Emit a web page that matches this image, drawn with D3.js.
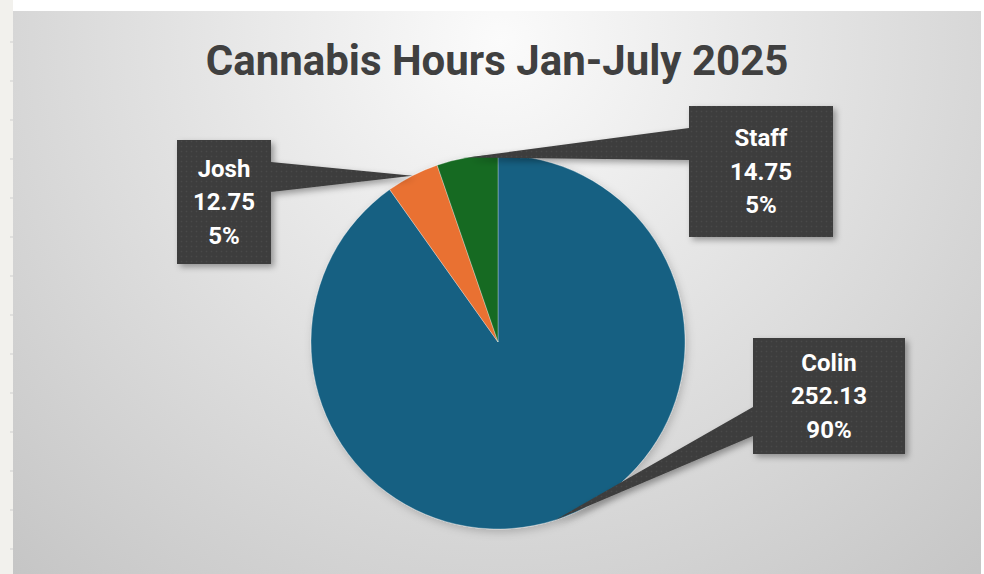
<!DOCTYPE html>
<html>
  <head>
    <script src="https://d3js.org/d3.v7.min.js"></script>
    <style>
      body { margin: 0; background-color: #ffffff; overflow: hidden; }
      text { font-family: Roboto, "Noto Sans", sans-serif; }
    </style>
  </head>
  <body>
    <svg id="canvas" width="984" height="574"></svg>
  </body>

  <script>
    const title = 'Cannabis Hours Jan-July 2025'
    const names = ['Colin', 'Josh', 'Staff']
    const hours = [252.13, 12.75, 14.75]
    const colors = ['#156082', '#e97132', '#196b24']

    // callout boxes: x, y, w, h and which side the pointer leaves from
    const boxes = [
      { x: 753, y: 338, w: 152, h: 116, side: 'left', p0: 407, p1: 436 },
      { x: 177, y: 140, w: 94, h: 124, side: 'right', p0: 162, p1: 192 },
      { x: 689, y: 106, w: 144, h: 131, side: 'left', p0: 128, p1: 160 }
    ]

    const width = 984, height = 574
    const cx = 498, cy = 342, radius = 187

    const svg = d3.select('#canvas')
    const defs = svg.append('defs')

    // chart background gradient
    const grad = defs.append('radialGradient').attr('id', 'bg')
      .attr('gradientUnits', 'userSpaceOnUse')
      .attr('cx', 500).attr('cy', 40).attr('r', 740)
    grad.append('stop').attr('offset', '0%').attr('stop-color', '#fbfbfb')
    grad.append('stop').attr('offset', '45%').attr('stop-color', '#e2e2e2')
    grad.append('stop').attr('offset', '100%').attr('stop-color', '#c4c4c4')

    const pat = defs.append('pattern').attr('id', 'dots')
      .attr('patternUnits', 'userSpaceOnUse').attr('width', 5).attr('height', 5)
    pat.append('rect').attr('width', 5).attr('height', 5).attr('fill', '#3d3d3d')
    pat.append('circle').attr('cx', 1.5).attr('cy', 1.5).attr('r', 0.8).attr('fill', '#4a4a4a')

    const shadow = defs.append('filter').attr('id', 'shadow')
      .attr('x', '-20%').attr('y', '-20%').attr('width', '150%').attr('height', '150%')
    shadow.append('feDropShadow').attr('dx', 3).attr('dy', 3)
      .attr('stdDeviation', 3).attr('flood-color', '#000').attr('flood-opacity', 0.35)

    const pieShadow = defs.append('filter').attr('id', 'pieShadow')
      .attr('x', '-20%').attr('y', '-20%').attr('width', '140%').attr('height', '140%')
    pieShadow.append('feDropShadow').attr('dx', 2).attr('dy', 3)
      .attr('stdDeviation', 4).attr('flood-color', '#000').attr('flood-opacity', 0.2)

    // spreadsheet strip on the left
    svg.append('rect').attr('x', 0).attr('y', 0).attr('width', 13).attr('height', height).attr('fill', '#f2f1ed')
    d3.range(42, height, 39).forEach(y => {
      svg.append('line').attr('x1', 10).attr('x2', 13).attr('y1', y).attr('y2', y).attr('stroke', '#cfcfcf')
    })

    // chart area
    svg.append('rect').attr('x', 13).attr('y', 11).attr('width', 968).attr('height', height - 11)
      .attr('fill', 'url(#bg)')

    svg.append('text')
      .attr('x', 497).attr('y', 75)
      .attr('text-anchor', 'middle')
      .attr('font-size', 42).attr('font-weight', 700)
      .attr('fill', '#404040')
      .text(title)

    const total = d3.sum(hours)
    const pct = d3.format('.0%')
    const data = names.map((n, i) => ({ name: n, value: hours[i], color: colors[i] }))

    const pie = d3.pie().sort(null).value(d => d.value)
    const arcs = pie(data)
    const arc = d3.arc().innerRadius(0).outerRadius(radius)

    const g = svg.append('g').attr('transform', `translate(${cx},${cy})`)
    g.append('g').attr('filter', 'url(#pieShadow)')
      .selectAll('path').data(arcs).enter()
      .append('path')
        .attr('d', arc)
        .attr('fill', d => d.data.color)
        .attr('stroke', '#ffffff')
        .attr('stroke-opacity', 0.5)
        .attr('stroke-width', 0.6)

    // callouts
    const labelLayer = svg.append('g')
    arcs.forEach((d, i) => {
      const b = boxes[i]
      const a = (d.startAngle + d.endAngle) / 2
      const tx = cx + radius * Math.sin(a)
      const ty = cy - radius * Math.cos(a)
      const ex = b.side === 'left' ? b.x : b.x + b.w
      const path = d3.path()
      path.moveTo(b.x, b.y)
      path.lineTo(b.x + b.w, b.y)
      if (b.side === 'right') {
        path.lineTo(ex, b.p0); path.lineTo(tx, ty); path.lineTo(ex, b.p1)
      }
      path.lineTo(b.x + b.w, b.y + b.h)
      path.lineTo(b.x, b.y + b.h)
      if (b.side === 'left') {
        path.lineTo(ex, b.p1); path.lineTo(tx, ty); path.lineTo(ex, b.p0)
      }
      path.closePath()
      labelLayer.append('path')
        .attr('d', path.toString())
        .attr('fill', 'url(#dots)')
        .attr('filter', 'url(#shadow)')

      const lines = [d.data.name, String(d.data.value), pct(d.data.value / total)]
      const midY = b.y + b.h / 2
      lines.forEach((t, j) => {
        labelLayer.append('text')
          .attr('x', b.x + b.w / 2)
          .attr('y', midY + (j - 1) * 33.5)
          .attr('dy', '0.35em')
          .attr('text-anchor', 'middle')
          .attr('font-size', 24).attr('font-weight', 700)
          .attr('fill', '#ffffff')
          .text(t)
      })
    })
  </script>
</html>
